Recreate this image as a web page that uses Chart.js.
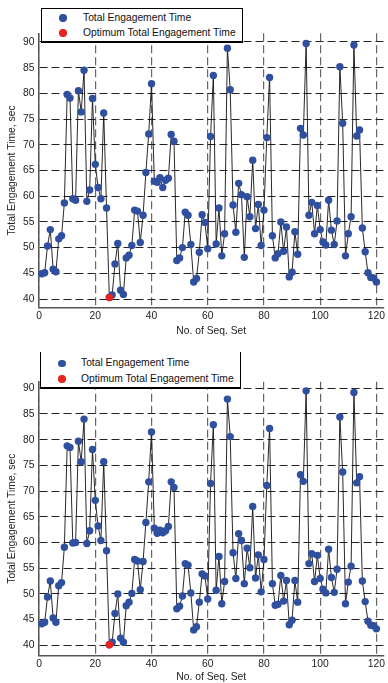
<!DOCTYPE html>
<html>
<head>
<meta charset="utf-8">
<script src="https://cdn.jsdelivr.net/npm/chart.js@4.4.0/dist/chart.umd.min.js"></script>
<style>
  body { margin: 0; background: #fff; width: 388px; height: 683px; overflow: hidden; font-family: "Liberation Sans", Arial, sans-serif; }
  .panel { position: absolute; left: 0; width: 388px; }
  .legend { position: absolute; background: #fff; border: 1px solid #000; border-bottom-width: 2px; box-sizing: border-box; font-size: 10.3px; color: #111; }
  .legend .item { position: absolute; white-space: nowrap; line-height: 12px; }
  .legend .dot { position: absolute; width: 7.4px; height: 7.4px; border-radius: 50%; }
</style>
</head>
<body>
<div class="panel" style="top:0;height:343px"><canvas id="chartTop" width="388" height="343"></canvas></div>
<div class="panel" style="top:343px;height:340px"><canvas id="chartBottom" width="388" height="340"></canvas></div>

<div class="legend" style="left:41px;top:8px;width:202px;height:35px">
  <div class="dot" style="left:17.3px;top:5.3px;background:#2f4f9f"></div>
  <div class="item" style="left:41px;top:3px">Total Engagement Time</div>
  <div class="dot" style="left:17.3px;top:20.3px;background:#e52521"></div>
  <div class="item" style="left:41px;top:18px">Optimum Total Engagement Time</div>
</div>
<div class="legend" style="left:40px;top:352px;width:201px;height:37px;border-top:none">
  <div class="dot" style="left:17.3px;top:7.6px;background:#2f4f9f"></div>
  <div class="item" style="left:40px;top:5.3px">Total Engagement Time</div>
  <div class="dot" style="left:17.3px;top:23.3px;background:#e52521"></div>
  <div class="item" style="left:40px;top:21px">Optimum Total Engagement Time</div>
</div>

<script>
const seqSet = [
  1, 2, 3, 4, 5, 6, 7, 8, 9, 10, 11, 12, 13, 14, 15, 16, 17, 18, 19, 20,
  21, 22, 23, 24, 25, 26, 27, 28, 29, 30, 31, 32, 33, 34, 35, 36, 37, 38, 39, 40,
  41, 42, 43, 44, 45, 46, 47, 48, 49, 50, 51, 52, 53, 54, 55, 56, 57, 58, 59, 60,
  61, 62, 63, 64, 65, 66, 67, 68, 69, 70, 71, 72, 73, 74, 75, 76, 77, 78, 79, 80,
  81, 82, 83, 84, 85, 86, 87, 88, 89, 90, 91, 92, 93, 94, 95, 96, 97, 98, 99, 100,
  101, 102, 103, 104, 105, 106, 107, 108, 109, 110, 111, 112, 113, 114, 115, 116, 117, 118, 119, 120
];

const engagementTop = [
  44.9, 45.1, 50.3, 53.5, 45.8, 45.3, 51.7, 52.3, 58.7, 79.8,
  79.1, 59.5, 59.2, 80.5, 76.4, 84.5, 59.0, 61.2, 79.0, 66.2,
  61.7, 59.5, 76.2, 57.7, 40.3, 40.8, 46.8, 50.8, 41.7, 40.9,
  48.0, 48.5, 50.4, 57.3, 57.1, 51.0, 56.3, 64.6, 72.1, 81.9,
  62.9, 62.7, 63.6, 61.7, 63.1, 63.5, 72.0, 70.7, 47.5, 48.0,
  50.0, 56.9, 56.3, 50.6, 43.3, 44.0, 49.1, 56.4, 54.9, 49.8,
  71.6, 83.5, 50.7, 57.7, 48.4, 52.7, 88.8, 80.7, 58.3, 53.0,
  62.5, 60.3, 48.1, 59.9, 56.0, 67.0, 53.7, 58.4, 50.4, 57.3,
  71.4, 83.1, 52.3, 48.0, 48.8, 55.0, 49.3, 54.0, 44.3, 45.2,
  53.1, 48.7, 73.2, 71.9, 89.7, 56.3, 58.8, 52.7, 58.2, 53.5,
  51.1, 50.5, 59.2, 53.4, 50.6, 55.2, 85.2, 74.2, 48.4, 52.7,
  56.0, 89.4, 71.7, 72.9, 53.8, 49.2, 45.1, 44.2, 44.1, 43.3
];

const engagementBottom = [
  44.2, 44.5, 49.4, 52.5, 45.3, 44.5, 51.6, 52.2, 59.1, 78.8,
  78.5, 59.9, 60.0, 79.7, 75.7, 84.0, 59.8, 62.3, 78.1, 68.2,
  63.2, 60.4, 75.7, 58.4, 40.1, 40.6, 46.2, 50.0, 41.4, 40.6,
  47.7, 48.4, 50.1, 56.7, 56.4, 50.8, 56.3, 63.9, 71.8, 81.5,
  62.8, 61.8, 62.4, 61.9, 62.3, 63.1, 71.8, 70.7, 47.1, 47.6,
  49.6, 55.9, 55.6, 50.2, 43.0, 43.6, 48.4, 53.9, 53.5, 49.0,
  71.5, 82.9, 50.7, 57.3, 48.1, 52.4, 87.9, 80.6, 58.0, 53.0,
  61.7, 60.4, 52.0, 58.9, 55.1, 67.0, 53.1, 57.6, 50.4, 56.7,
  71.1, 82.2, 52.0, 47.8, 48.0, 53.6, 48.6, 52.6, 44.0, 44.9,
  52.6, 48.4, 73.2, 71.9, 89.5, 55.9, 57.8, 52.4, 57.5, 53.0,
  50.9, 50.2, 58.7, 53.2, 50.3, 54.8, 84.4, 73.7, 48.1, 52.3,
  55.4, 89.2, 71.6, 72.8, 52.5, 48.5, 44.7, 43.9, 43.8, 43.2
];

const optimumSeq = [25];
const optimumTop = [40.3];
const optimumBottom = [40.1];

const xTicks = [0, 20, 40, 60, 80, 100, 120];
const yTicks = [40, 45, 50, 55, 60, 65, 70, 75, 80, 85, 90];

const BLUE = '#2f4f9f';
const RED = '#e52521';
const FONT = { family: '"Liberation Sans", Arial, sans-serif', size: 10.3 };

function makeChart(id, values, optValues, box) {
  const pts = seqSet.map((s, i) => ({ x: s, y: values[i] }));
  const opt = optimumSeq.map((s, i) => ({ x: s, y: optValues[i] }));
  return new Chart(document.getElementById(id), {
    type: 'line',
    data: {
      datasets: [
        {
          label: 'Total Engagement Time',
          data: pts,
          order: 1,
          borderColor: '#111',
          borderWidth: 0.9,
          pointRadius: 3.7,
          pointBorderWidth: 0,
          pointBackgroundColor: BLUE,
          pointBorderColor: BLUE,
          tension: 0
        },
        {
          // drawn last so it sits on top of the blue marker at the same spot
          label: 'Optimum Total Engagement Time',
          data: opt,
          order: 0,
          showLine: false,
          pointRadius: 3.7,
          pointBorderWidth: 0,
          pointBackgroundColor: RED,
          pointBorderColor: RED
        }
      ]
    },
    options: {
      responsive: false,
      animation: false,
      clip: false,
      layout: { padding: { top: box.top, right: 1, left: 0, bottom: 0 } },
      plugins: { legend: { display: false }, tooltip: { enabled: false } },
      scales: {
        x: {
          type: 'linear',
          min: -0.2,
          max: 122.7,
          afterBuildTicks: s => { s.ticks = xTicks.map(v => ({ value: v })); },
          afterFit: s => { s.height = box.xAxisHeight; },
          ticks: { font: FONT, color: '#222', padding: 2, maxRotation: 0 },
          grid: { color: '#666', lineWidth: 1.2, drawTicks: false },
          border: { color: '#555', width: 1.5, dash: [8, 4] },
          title: { display: true, text: 'No. of Seq. Set', font: FONT, color: '#222', padding: { top: 0, bottom: box.xTitlePad } }
        },
        y: {
          min: box.yMin,
          max: box.yMax,
          afterBuildTicks: s => { s.ticks = yTicks.map(v => ({ value: v })); },
          afterFit: s => { s.width = 38.5; },
          ticks: { font: FONT, color: '#222', padding: 4 },
          grid: { color: '#222', lineWidth: 1, drawTicks: false },
          border: { color: '#555', width: 1.5, dash: [8, 4] },
          title: { display: true, text: 'Total Engagement Time, sec', font: FONT, color: '#222', padding: { top: 6.3, bottom: 0 } }
        }
      }
    }
  });
}

makeChart('chartTop', engagementTop, optimumTop,
  { top: 33.3, xAxisHeight: 35.3, xTitlePad: 5.8, yMin: 38.31, yMax: 91.69 });
makeChart('chartBottom', engagementBottom, optimumBottom,
  { top: 38.7, xAxisHeight: 27.3, xTitlePad: 0, yMin: 37.98, yMax: 91.28 });
</script>
</body>
</html>
